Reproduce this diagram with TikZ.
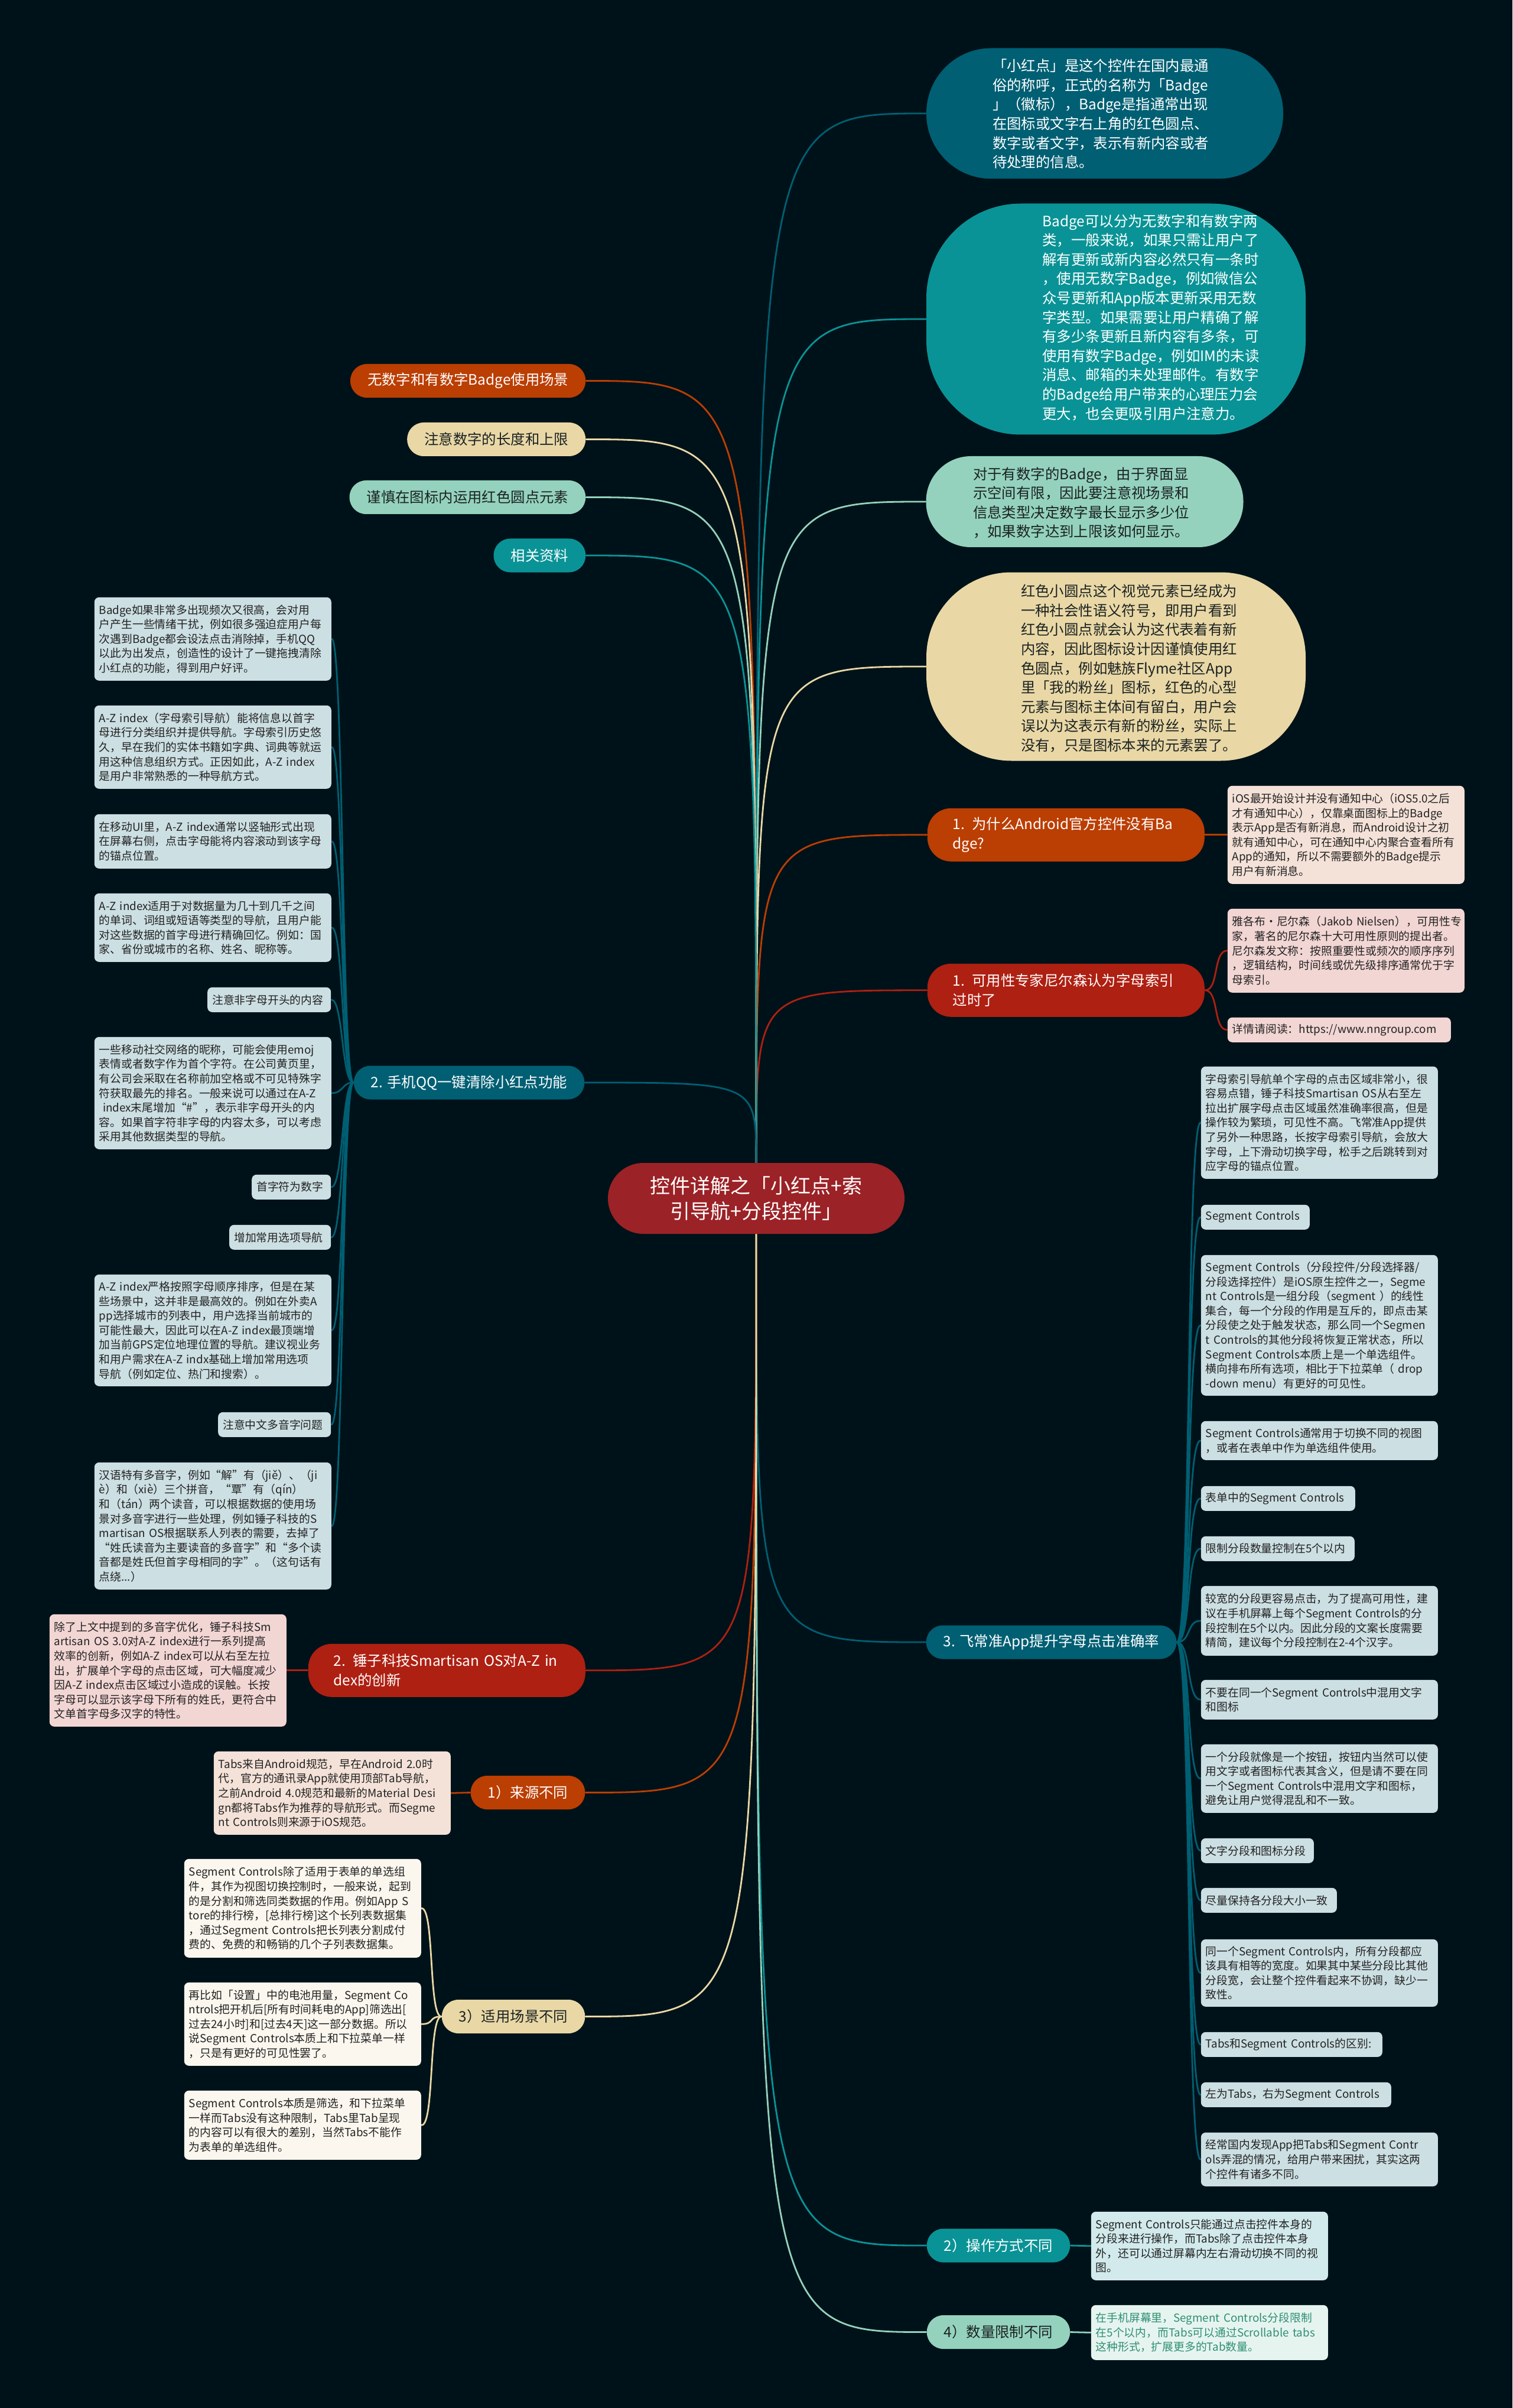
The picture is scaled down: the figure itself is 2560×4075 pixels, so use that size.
\documentclass[tikz,border=0pt]{standalone}
\usepackage{fontspec}
\newfontfamily\cjk{Noto Sans CJK SC}
\definecolor{bgc}{HTML}{001219}
\definecolor{dteal}{HTML}{005F73}
\definecolor{teal2}{HTML}{0A9396}
\definecolor{mint}{HTML}{94D2BD}
\definecolor{sand}{HTML}{E9D8A6}
\definecolor{rust}{HTML}{BB3E03}
\definecolor{red2}{HTML}{AE2012}
\definecolor{crim}{HTML}{9B2226}
\definecolor{nrust}{HTML}{F4E2D8}
\definecolor{nred}{HTML}{F2D6D4}
\definecolor{ndteal}{HTML}{CCDFE3}
\definecolor{nteal}{HTML}{D2EAEC}
\definecolor{nmint}{HTML}{E6F4EF}
\definecolor{nsand}{HTML}{FBF7EE}
\definecolor{ntxt}{HTML}{222222}
\definecolor{dtxt}{HTML}{1B2222}
\definecolor{gtxt}{HTML}{2F8F74}
\pgfdeclarelayer{bg}
\pgfsetlayers{bg,main}
\begin{document}
\begin{tikzpicture}[x=0.25pt,y=-0.25pt,
 conn/.style={line width=0.7pt, line cap=round},
 ctrs/.style={rectangle, rounded corners=15pt, fill=crim, text=white, minimum width=125.5pt, minimum height=30pt, inner sep=0pt, align=center, font=\cjk\fontsize{8.5}{10.75}\selectfont},
 bubble/.style={rectangle, inner sep=0pt},
 btxt/.style={inner sep=0pt, align=left, font=\cjk\fontsize{6.1}{8.15}\selectfont},
 lvl/.style={rectangle, rounded corners=7pt, minimum height=14.25pt, inner xsep=7.25pt, inner ysep=0pt, font=\cjk\fontsize{6.1}{8.2}\selectfont},
 lvltwo/.style={rectangle, rounded corners=10pt, minimum height=22.5pt, text width=95.75pt, inner xsep=10.75pt, inner ysep=0pt, align=left, font=\cjk\fontsize{6.1}{8.2}\selectfont, text=white},
 nbox/.style={rectangle, rounded corners=2pt, inner xsep=2pt, inner ysep=0pt, align=left, font=\cjk\fontsize{4.7}{6.15}\selectfont, text=ntxt, text width=96.25pt},
 sbox/.style={nbox, text width=#1, minimum height=10.5pt}]
\useasboundingbox (0,0) rectangle (2560,4075);

% ---------- centre
\node[ctrs] (ctr) at (1280,2028) {控件详解之「小红点+索\\引导航+分段控件」};

% ---------- upper right bubbles
\node[bubble, fill=dteal, minimum width=151pt, minimum height=55.25pt, rounded corners=27.5pt] (r1) at (1870,192) {};
\node[btxt, text=white] (r1t) at (1863,193) {「小红点」是这个控件在国内最通\\俗的称呼，正式的名称为「Badge\\」（徽标），Badge是指通常出现\\在图标或文字右上角的红色圆点、\\数字或者文字，表示有新内容或者\\待处理的信息。};

\node[bubble, fill=teal2, minimum width=160.5pt, minimum height=97.75pt, rounded corners=40pt] (r2) at (1889,540) {};
\node[btxt, text=white] (r2t) at (1948,537) {Badge可以分为无数字和有数字两\\类，一般来说，如果只需让用户了\\解有更新或新内容必然只有一条时\\，使用无数字Badge，例如微信公\\众号更新和App版本更新采用无数\\字类型。如果需要让用户精确了解\\有多少条更新且新内容有多条，可\\使用有数字Badge，例如IM的未读\\消息、邮箱的未处理邮件。有数字\\的Badge给用户带来的心理压力会\\更大，也会更吸引用户注意力。};

\node[bubble, fill=mint, minimum width=134.25pt, minimum height=38.5pt, rounded corners=19pt] (r3) at (1836,849) {};
\node[btxt, text=dtxt] (r3t) at (1830,851) {对于有数字的Badge，由于界面显\\示空间有限，因此要注意视场景和\\信息类型决定数字最长显示多少位\\，如果数字达到上限该如何显示。};

\node[bubble, fill=sand, minimum width=160.5pt, minimum height=79.75pt, rounded corners=36pt] (r4) at (1889,1128) {};
\node[btxt, text=dtxt] (r4t) at (1911,1131) {红色小圆点这个视觉元素已经成为\\一种社会性语义符号，即用户看到\\红色小圆点就会认为这代表着有新\\内容，因此图标设计因谨慎使用红\\色圆点，例如魅族Flyme社区App\\里「我的粉丝」图标，红色的心型\\元素与图标主体间有留白，用户会\\误以为这表示有新的粉丝，实际上\\没有，只是图标本来的元素罢了。};

% ---------- right level-1 with notes
\node[lvltwo, fill=rust, anchor=north west] (q1) at (1569,1367) {1. 为什么Android官方控件没有Ba\\dge?};
\node[nbox, fill=nrust, anchor=north west, minimum height=41.5pt] (ios) at (2077,1329) {iOS最开始设计并没有通知中心（iOS5.0之后\\才有通知中心），仅靠桌面图标上的Badge\\表示App是否有新消息，而Android设计之初\\就有通知中心，可在通知中心内聚合查看所有\\App的通知，所以不需要额外的Badge提示\\用户有新消息。};

\node[lvltwo, fill=red2, anchor=north west] (q2) at (1569,1630) {1. 可用性专家尼尔森认为字母索引\\过时了};
\node[nbox, fill=nred, anchor=north west, minimum height=35.5pt] (niel) at (2077,1537) {雅各布·尼尔森（Jakob~Nielsen），可用性专\\家，著名的尼尔森十大可用性原则的提出者。\\尼尔森发文称：按照重要性或频次的顺序序列\\，逻辑结构，时间线或优先级排序通常优于字\\母索引。};
\node[sbox=90.5pt, fill=nred, anchor=north west] (nng) at (2077,1721) {详情请阅读：https://www.nngroup.com};

% ---------- 3. 飞常准
\node[lvl, fill=dteal, text=white, anchor=west] (fz) at (1567,2779) {3. 飞常准App提升字母点击准确率};
\node[nbox, fill=ndteal, anchor=north west, minimum height=47.5pt] (n1) at (2032,1804) {字母索引导航单个字母的点击区域非常小，很\\容易点错，锤子科技Smartisan OS从右至左\\拉出扩展字母点击区域虽然准确率很高，但是\\操作较为繁琐，可见性不高。飞常准App提供\\了另外一种思路，长按字母索引导航，会放大\\字母，上下滑动切换字母，松手之后跳转到对\\应字母的锚点位置。};
\node[sbox=42pt, fill=ndteal, anchor=north west] (n2) at (2032,2038) {Segment Controls};
\node[nbox, fill=ndteal, anchor=north west, minimum height=59.5pt] (n3) at (2032,2123) {Segment Controls（分段控件/分段选择器/\\分段选择控件）是iOS原生控件之一，Segme\\nt Controls是一组分段（segment ）的线性\\集合，每一个分段的作用是互斥的，即点击某\\分段使之处于触发状态，那么同一个Segmen\\t Controls的其他分段将恢复正常状态，所以\\Segment Controls本质上是一个单选组件。\\横向排布所有选项，相比于下拉菜单（ drop\\-down menu）有更好的可见性。};
\node[nbox, fill=ndteal, anchor=north west, minimum height=16.5pt] (n4) at (2032,2404) {Segment Controls通常用于切换不同的视图\\，或者在表单中作为单选组件使用。};
\node[sbox=61.25pt, fill=ndteal, anchor=north west] (n5) at (2032,2514) {表单中的Segment Controls};
\node[sbox=61pt, fill=ndteal, anchor=north west] (n6) at (2032,2599) {限制分段数量控制在5个以内};
\node[nbox, fill=ndteal, anchor=north west, minimum height=29.5pt] (n7) at (2032,2683) {较宽的分段更容易点击，为了提高可用性，建\\议在手机屏幕上每个Segment Controls的分\\段控制在5个以内。因此分段的文案长度需要\\精简，建议每个分段控制在2-4个汉字。};
\node[nbox, fill=ndteal, anchor=north west, minimum height=16.75pt] (n8) at (2032,2842) {不要在同一个Segment Controls中混用文字\\和图标};
\node[nbox, fill=ndteal, anchor=north west, minimum height=29pt] (n9) at (2032,2951) {一个分段就像是一个按钮，按钮内当然可以使\\用文字或者图标代表其含义，但是请不要在同\\一个Segment Controls中混用文字和图标，\\避免让用户觉得混乱和不一致。};
\node[sbox=43.75pt, fill=ndteal, anchor=north west] (n10) at (2032,3110) {文字分段和图标分段};
\node[sbox=53.5pt, fill=ndteal, anchor=north west] (n11) at (2032,3194) {尽量保持各分段大小一致};
\node[nbox, fill=ndteal, anchor=north west, minimum height=28.5pt] (n12) at (2032,3281) {同一个Segment Controls内，所有分段都应\\该具有相等的宽度。如果其中某些分段比其他\\分段宽，会让整个控件看起来不协调，缺少一\\致性。};
\node[sbox=72.75pt, fill=ndteal, anchor=north west] (n13) at (2032,3438) {Tabs和Segment Controls的区别:};
\node[sbox=76.5pt, fill=ndteal, anchor=north west] (n14) at (2032,3523) {左为Tabs，右为Segment Controls};
\node[nbox, fill=ndteal, anchor=north west, minimum height=22.75pt] (n15) at (2032,3608) {经常国内发现App把Tabs和Segment Contr\\ols弄混的情况，给用户带来困扰，其实这两\\个控件有诸多不同。};

% ---------- lower right
\node[lvl, fill=teal2, text=white, anchor=west] (op) at (1568,3800) {2）操作方式不同};
\node[nbox, fill=nteal, anchor=north west, minimum height=29pt] (opn) at (1846,3742) {Segment Controls只能通过点击控件本身的\\分段来进行操作，而Tabs除了点击控件本身\\外，还可以通过屏幕内左右滑动切换不同的视\\图。};
\node[lvl, fill=mint, text=dtxt, anchor=west] (num) at (1568,3946.5) {4）数量限制不同};
\node[nbox, fill=nmint, text=gtxt, anchor=north west, minimum height=23.25pt] (numn) at (1846,3900) {在手机屏幕里，Segment Controls分段限制\\在5个以内，而Tabs可以通过Scrollable tabs\\这种形式，扩展更多的Tab数量。};

% ---------- upper left
\node[lvl, fill=rust, text=white, anchor=east] (a1) at (992,644.5) {无数字和有数字Badge使用场景};
\node[lvl, fill=sand, text=dtxt, anchor=east] (a2) at (992,743.5) {注意数字的长度和上限};
\node[lvl, fill=mint, text=dtxt, anchor=east] (a3) at (992,841.5) {谨慎在图标内运用红色圆点元素};
\node[lvl, fill=teal2, text=white, anchor=east] (a4) at (992,940) {相关资料};

% ---------- 2. 手机QQ
\node[lvl, fill=dteal, text=white, anchor=east] (qq) at (990,1832) {2. 手机QQ一键清除小红点功能};
\node[nbox, fill=ndteal, anchor=north west, minimum height=35.25pt] (l1) at (159,1010) {Badge如果非常多出现频次又很高，会对用\\户产生一些情绪干扰，例如很多强迫症用户每\\次遇到Badge都会设法点击消除掉，手机QQ\\以此为出发点，创造性的设计了一键拖拽清除\\小红点的功能，得到用户好评。};
\node[nbox, fill=ndteal, anchor=north west, minimum height=35.25pt] (l2) at (159,1193) {A-Z index（字母索引导航）能将信息以首字\\母进行分类组织并提供导航。字母索引历史悠\\久，早在我们的实体书籍如字典、词典等就运\\用这种信息组织方式。正因如此，A-Z index\\是用户非常熟悉的一种导航方式。};
\node[nbox, fill=ndteal, anchor=north west, minimum height=23pt] (l3) at (159,1377) {在移动UI里，A-Z index通常以竖轴形式出现\\在屏幕右侧，点击字母能将内容滚动到该字母\\的锚点位置。};
\node[nbox, fill=ndteal, anchor=north west, minimum height=29pt] (l4) at (159,1511) {A-Z index适用于对数据量为几十到几千之间\\的单词、词组或短语等类型的导航，且用户能\\对这些数据的首字母进行精确回忆。例如：国\\家、省份或城市的名称、姓名、昵称等。};
\node[sbox=48.25pt, fill=ndteal, anchor=north east] (l5) at (561,1670) {注意非字母开头的内容};
\node[nbox, fill=ndteal, anchor=north west, minimum height=47.5pt] (l6) at (159,1754) {一些移动社交网络的昵称，可能会使用emoj\\表情或者数字作为首个字符。在公司黄页里，\\有公司会采取在名称前加空格或不可见特殊字\\符获取最先的排名。一般来说可以通过在A-Z\\\ index末尾增加“\#”，表示非字母开头的内\\容。如果首字符非字母的内容太多，可以考虑\\采用其他数据类型的导航。};
\node[sbox=29.5pt, fill=ndteal, anchor=north east] (l7) at (561,1987) {首字符为数字};
\node[sbox=39pt, fill=ndteal, anchor=north east] (l8) at (561,2072) {增加常用选项导航};
\node[nbox, fill=ndteal, anchor=north west, minimum height=47.25pt] (l9) at (159,2156) {A-Z index严格按照字母顺序排序，但是在某\\些场景中，这并非是最高效的。例如在外卖A\\pp选择城市的列表中，用户选择当前城市的\\可能性最大，因此可以在A-Z index最顶端增\\加当前GPS定位地理位置的导航。建议视业务\\和用户需求在A-Z indx基础上增加常用选项\\导航（例如定位、热门和搜索）。};
\node[sbox=43.75pt, fill=ndteal, anchor=north east] (l10) at (561,2389) {注意中文多音字问题};
\node[nbox, fill=ndteal, anchor=north west, minimum height=53.75pt] (l11) at (159,2474) {汉语特有多音字，例如“解”有（jiě）、（ji\\è）和（xiè）三个拼音，“覃”有（qín）\\和（tán）两个读音，可以根据数据的使用场\\景对多音字进行一些处理，例如锤子科技的S\\martisan OS根据联系人列表的需要，去掉了\\“姓氏读音为主要读音的多音字”和“多个读\\音都是姓氏但首字母相同的字”。（这句话有\\点绕...）};

% ---------- lower left
\node[lvltwo, fill=red2, anchor=north west] (cz) at (521,2781) {2. 锤子科技Smartisan OS对A-Z in\\dex的创新};
\node[nbox, fill=nred, anchor=north west, minimum height=47.5pt] (czn) at (83,2731) {除了上文中提到的多音字优化，锤子科技Sm\\artisan OS 3.0对A-Z index进行一系列提高\\效率的创新，例如A-Z index可以从右至左拉\\出，扩展单个字母的点击区域，可大幅度减少\\因A-Z index点击区域过小造成的误触。长按\\字母可以显示该字母下所有的姓氏，更符合中\\文单首字母多汉字的特性。};
\node[lvl, fill=rust, text=white, anchor=east] (ly) at (991,3033.5) {1）来源不同};
\node[nbox, fill=nrust, anchor=north west, minimum height=35.25pt] (lyn) at (361,2963) {Tabs来自Android规范，早在Android 2.0时\\代，官方的通讯录App就使用顶部Tab导航，\\之前Android 4.0规范和最新的Material Desi\\gn都将Tabs作为推荐的导航形式。而Segme\\nt Controls则来源于iOS规范。};
\node[lvl, fill=sand, text=dtxt, anchor=east] (sy) at (991,3412.5) {3）适用场景不同};
\node[nbox, fill=nsand, anchor=north west, minimum height=41.75pt] (s1) at (311,3145) {Segment Controls除了适用于表单的单选组\\件，其作为视图切换控制时，一般来说，起到\\的是分割和筛选同类数据的作用。例如App S\\tore的排行榜，[总排行榜]这个长列表数据集\\，通过Segment Controls把长列表分割成付\\费的、免费的和畅销的几个子列表数据集。};
\node[nbox, fill=nsand, anchor=north west, minimum height=35.25pt] (s2) at (311,3354) {再比如「设置」中的电池用量，Segment Co\\ntrols把开机后[所有时间耗电的App]筛选出[\\过去24小时]和[过去4天]这一部分数据。所以\\说Segment Controls本质上和下拉菜单一样\\，只是有更好的可见性罢了。};
\node[nbox, fill=nsand, anchor=north west, minimum height=29.25pt] (s3) at (311,3537) {Segment Controls本质是筛选，和下拉菜单\\一样而Tabs没有这种限制，Tabs里Tab呈现\\的内容可以有很大的差别，当然Tabs不能作\\为表单的单选组件。};

% ---------- connectors
\begin{pgfonlayer}{bg}
\fill[bgc] (0,0) rectangle (2560,4075);
\draw[conn, dteal] (ctr.north) .. controls (ctr.north |- r1.west) .. (r1.west);
\draw[conn, teal2] (ctr.north) .. controls (ctr.north |- r2.west) .. (r2.west);
\draw[conn, mint] (ctr.north) .. controls (ctr.north |- r3.west) .. (r3.west);
\draw[conn, sand] (ctr.north) .. controls (ctr.north |- r4.west) .. (r4.west);
\draw[conn, rust] (ctr.north) .. controls (ctr.north |- q1.west) .. (q1.west);
\draw[conn, red2] (ctr.north) .. controls (ctr.north |- q2.west) .. (q2.west);
\draw[conn, rust] (ctr.north) .. controls (ctr.north |- a1.east) .. (a1.east);
\draw[conn, sand] (ctr.north) .. controls (ctr.north |- a2.east) .. (a2.east);
\draw[conn, mint] (ctr.north) .. controls (ctr.north |- a3.east) .. (a3.east);
\draw[conn, teal2] (ctr.north) .. controls (ctr.north |- a4.east) .. (a4.east);
\draw[conn, dteal] (ctr.north) .. controls (ctr.north |- qq.east) .. (qq.east);
\draw[conn, dteal] (ctr.south) .. controls (ctr.south |- fz.west) .. (fz.west);
\draw[conn, teal2] (ctr.south) .. controls (ctr.south |- op.west) .. (op.west);
\draw[conn, mint] (ctr.south) .. controls (ctr.south |- num.west) .. (num.west);
\draw[conn, red2] (ctr.south) .. controls (ctr.south |- cz.east) .. (cz.east);
\draw[conn, rust] (ctr.south) .. controls (ctr.south |- ly.east) .. (ly.east);
\draw[conn, sand] (ctr.south) .. controls (ctr.south |- sy.east) .. (sy.east);
% note links
\draw[conn, rust] (q1.east) -- (ios.west);
\draw[conn, red2] (q2.east) .. controls +(24,0) and +(-24,0) .. (niel.west);
\draw[conn, red2] (q2.east) .. controls +(24,0) and +(-24,0) .. (nng.west);
\foreach \n in {n1,n2,n3,n4,n5,n6,n7,n8,n9,n10,n11,n12,n13,n14,n15}
  \draw[conn, dteal] (fz.east) .. controls +(24,0) and +(-24,0) .. (\n.west);
\foreach \n in {l1,l2,l3,l4,l5,l6,l7,l8,l9,l10,l11}
  \draw[conn, dteal] (qq.west) .. controls +(-20,0) and +(20,0) .. (\n.east);
\draw[conn, red2] (cz.west) -- (czn.east);
\draw[conn, rust] (ly.west) -- (lyn.east);
\foreach \n in {s1,s2,s3}
  \draw[conn, sand] (sy.west) .. controls +(-22,0) and +(22,0) .. (\n.east);
\draw[conn, teal2] (op.east) -- (opn.west);
\draw[conn, mint] (num.east) -- (numn.west);
\end{pgfonlayer}
\end{tikzpicture}
\end{document}
